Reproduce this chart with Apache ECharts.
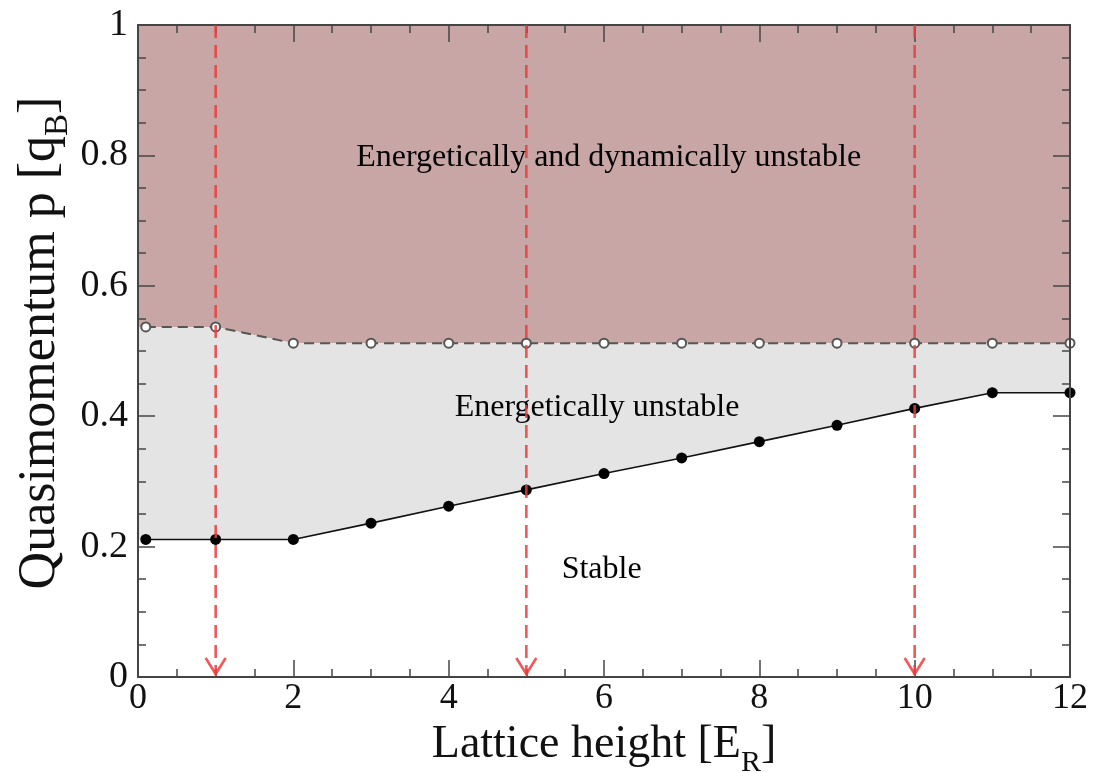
<!DOCTYPE html>
<html>
<head>
<meta charset="utf-8">
<script src="https://cdn.jsdelivr.net/npm/echarts@6/dist/echarts.min.js"></script>
<style>
html,body{margin:0;padding:0;background:#fff;}
#chart{width:1094px;height:773px;}
</style>
</head>
<body>
<div id="chart"></div>
<script>
// ---- data ----
const latticeHeights = [0.1, 1, 2, 3, 4, 5, 6, 7, 8, 9, 10, 11, 12];
const stableLimit = [0.211, 0.211, 0.211, 0.236, 0.262, 0.287, 0.312, 0.336, 0.361, 0.386, 0.412, 0.436, 0.436];
const dynamicLimit = [0.537, 0.537, 0.512, 0.512, 0.512, 0.512, 0.512, 0.512, 0.512, 0.512, 0.512, 0.512, 0.512];
const arrowHeights = [1, 5, 10];
const regionNames = ['Energetically and dynamically unstable', 'Energetically unstable', 'Stable'];
const regionX = [6.06, 5.91, 5.97];
const regionY = [0.796, 0.413, 0.164];
const X_MIN = 0, X_MAX = 12, X_STEP = 2;
const Y_MIN = 0, Y_MAX = 1, Y_STEP = 0.2;

// ---- styles ----
const FONT = 'Liberation Serif';
const AXIS_COLOR = '#454545';
const RED = 'rgba(236,60,60,0.85)';
const ROSE = '#c9a6a6';
const GRAY = '#e4e4e4';

// fill boundaries extended to the left axis edge
const fillX = [X_MIN].concat(latticeHeights);
const fillUpper = [dynamicLimit[0]].concat(dynamicLimit);
const fillLower = [stableLimit[0]].concat(stableLimit);
const pairs = (xs, ys) => xs.map((x, i) => [x, ys[i]]);

const chart = echarts.init(document.getElementById('chart'), null, {renderer: 'canvas'});

function axisCommon(extra) {
  return Object.assign({
    type: 'value',
    splitLine: {show: false},
    axisLine: {show: true, onZero: false, lineStyle: {color: AXIS_COLOR, width: 2}},
    axisTick: {show: true, inside: true, length: 17, lineStyle: {color: AXIS_COLOR, width: 1.5}},
    minorTick: {show: true, splitNumber: 4, length: 8, lineStyle: {color: AXIS_COLOR, width: 1.5}},
    z: 20
  }, extra);
}

const option = {
  animation: false,
  backgroundColor: '#fff',
  grid: {left: 138, right: 24, top: 25, bottom: 96, containLabel: false, outerBoundsMode: 'none'},
  xAxis: [
    axisCommon({
      min: X_MIN, max: X_MAX, interval: X_STEP, position: 'bottom',
      axisLabel: {fontFamily: FONT, fontSize: 36, color: '#111', margin: 4},
      name: '{m|Lattice height [E}{s|R}{m|]}',
      nameLocation: 'middle', nameGap: 15,
      nameTextStyle: {
        fontFamily: FONT, fontSize: 46, color: '#111',
        rich: {
          m: {fontFamily: FONT, fontSize: 46, color: '#111'},
          s: {fontFamily: FONT, fontSize: 30, color: '#111', padding: [36, 0, 0, 0]}
        }
      }
    }),
    axisCommon({
      min: X_MIN, max: X_MAX, interval: X_STEP, position: 'top',
      axisLabel: {show: false}
    })
  ],
  yAxis: [
    axisCommon({
      min: Y_MIN, max: Y_MAX, interval: Y_STEP, position: 'left',
      axisLabel: {fontFamily: FONT, fontSize: 38, color: '#111', margin: 10}
    }),
    axisCommon({
      min: Y_MIN, max: Y_MAX, interval: Y_STEP, position: 'right',
      axisLabel: {show: false}
    })
  ],
  graphic: [{
    type: 'text',
    x: 40, y: 343,
    rotation: Math.PI / 2,
    style: {
      text: '{m|Quasimomentum p [q}{s|B}{m|]}',
      align: 'center', verticalAlign: 'middle',
      fill: '#111',
      font: '52px "Liberation Serif"',
      rich: {
        m: {fontFamily: FONT, fontSize: 52, fill: '#111'},
        s: {fontFamily: FONT, fontSize: 33, fill: '#111', padding: [36, 0, 0, 0]}
      }
    },
    z: 50
  }],
  series: [
    {
      name: 'unstable-fill', type: 'line', data: pairs(fillX, fillUpper),
      symbol: 'none', lineStyle: {width: 0}, silent: true,
      areaStyle: {color: ROSE, opacity: 1, origin: 'end'}, z: 1
    },
    {
      name: 'energetic-fill', type: 'line', data: pairs(fillX, fillUpper),
      symbol: 'none', lineStyle: {width: 0}, silent: true,
      areaStyle: {color: GRAY, opacity: 1, origin: 'start'}, z: 1
    },
    {
      name: 'stable-fill', type: 'line', data: pairs(fillX, fillLower),
      symbol: 'none', lineStyle: {width: 0}, silent: true,
      areaStyle: {color: '#ffffff', opacity: 1, origin: 'start'}, z: 1
    },
    {
      name: 'dynamic', type: 'line', data: pairs(latticeHeights, dynamicLimit),
      symbol: 'emptyCircle', symbolSize: 9, silent: true,
      lineStyle: {color: '#555', width: 2, type: [10, 6]},
      itemStyle: {color: '#555', borderColor: '#555', borderWidth: 1.5},
      z: 5
    },
    {
      name: 'stable', type: 'line', data: pairs(latticeHeights, stableLimit),
      symbol: 'circle', symbolSize: 11, silent: true,
      lineStyle: {color: '#111', width: 1.6},
      itemStyle: {color: '#000'},
      z: 5
    },
    {
      name: 'labels', type: 'scatter', silent: true,
      data: regionNames.map((n, i) => ({name: n, value: [regionX[i], regionY[i]]})),
      symbolSize: 1, itemStyle: {color: 'rgba(0,0,0,0)'},
      label: {show: true, position: 'inside', formatter: '{b}', fontFamily: FONT, fontSize: 32,
              color: '#000', opacity: 1, textBorderWidth: 0},
      labelLayout: {hideOverlap: false},
      z: 6
    },
    {
      name: 'arrows', type: 'custom', silent: true, clip: false,
      data: arrowHeights.map(x => [x, Y_MAX]),
      renderItem: function (params, api) {
        const x = api.value(0);
        const p0 = api.coord([x, Y_MAX]);
        const p1 = api.coord([x, Y_MIN]);
        return {
          type: 'group',
          children: [
            {type: 'line', shape: {x1: p0[0], y1: p0[1], x2: p1[0], y2: p1[1] - 2},
             style: {stroke: RED, lineWidth: 2.6, lineDash: [13, 7]}},
            {type: 'polyline', shape: {points: [[p1[0] - 10, p1[1] - 19], [p1[0], p1[1] - 3], [p1[0] + 10, p1[1] - 19]]},
             style: {stroke: RED, lineWidth: 2.6, fill: 'none'}}
          ]
        };
      },
      z: 30
    }
  ]
};
chart.setOption(option);
</script>
</body>
</html>
